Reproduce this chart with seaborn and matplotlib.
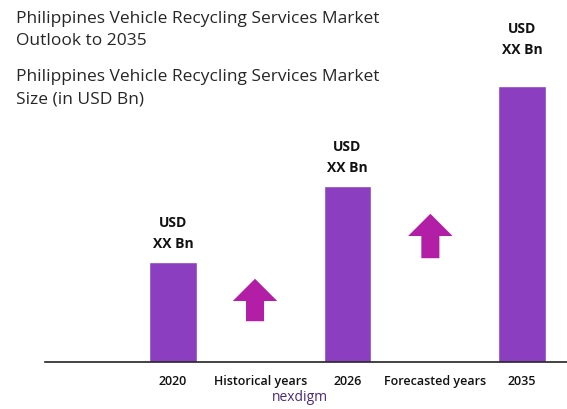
import matplotlib
matplotlib.use("Agg")
import matplotlib.pyplot as plt
import seaborn as sns
import pandas as pd

categories = ["2020", "Historical years", "2026", "Forecasted years", "2035"]
values = [1.0, 0.0, 1.76, 0.0, 2.76]
bar_labels = ["USD\nXX Bn", "", "USD\nXX Bn", "", "USD\nXX Bn"]
label_gap = [0.12, 0, 0.12, 0, 0.3]
# growth arrows: (category position, start value, end value)
arrows = [(0.94, 0.38, 0.86), (2.95, 1.01, 1.51)]

sns.set_style("white")
plt.rcParams["font.family"] = ["Open Sans", "DejaVu Sans"]

df = pd.DataFrame({"cat": categories, "val": values})

fig = plt.figure(figsize=(5.67, 4.10), dpi=100)
ax = fig.add_axes([45 / 567, 47 / 410, 522 / 567, 363 / 410])
sns.barplot(data=df, x="cat", y="val", order=categories, color="#8b3fc0",
            saturation=1, width=0.54, ax=ax)

for i, (v, lab, g) in enumerate(zip(values, bar_labels, label_gap)):
    if lab:
        ax.text(i, v + g, lab, ha="center", va="bottom", fontsize=10,
                fontweight="bold", linespacing=1.6, color="#111111")

for x, y0, y1 in arrows:
    ax.annotate("", xy=(x, y1), xytext=(x, y0),
                arrowprops=dict(arrowstyle="simple,head_width=3.2,head_length=1.6,tail_width=1.3",
                                color="#b21fa6", lw=0))

ax.set_xlim(-1.467, 4.516)
ax.set_ylim(0, 3.63)
ax.set_xlabel("")
ax.set_ylabel("")
ax.set_yticks([])
ax.tick_params(axis="x", length=0, pad=9, labelsize=9, labelcolor="#111111")
for t in ax.get_xticklabels():
    t.set_fontweight("semibold")
for s in ["top", "right", "left"]:
    ax.spines[s].set_visible(False)
ax.spines["bottom"].set_color("#222222")
ax.spines["bottom"].set_linewidth(1.2)

fig.text(16 / 567, 1 - 30 / 410, "Philippines Vehicle Recycling Services Market\nOutlook to 2035",
         fontsize=12.5, va="center", ha="left", linespacing=1.5)
fig.text(16 / 567, 1 - 88 / 410, "Philippines Vehicle Recycling Services Market\nSize (in USD Bn)",
         fontsize=12.5, va="center", ha="left", linespacing=1.5)
fig.text(300 / 567, 1 - 398 / 410, "nexdigm", fontsize=10, color="#4a2a7a",
         ha="center", va="center")

fig.savefig("out.png", dpi=100)
